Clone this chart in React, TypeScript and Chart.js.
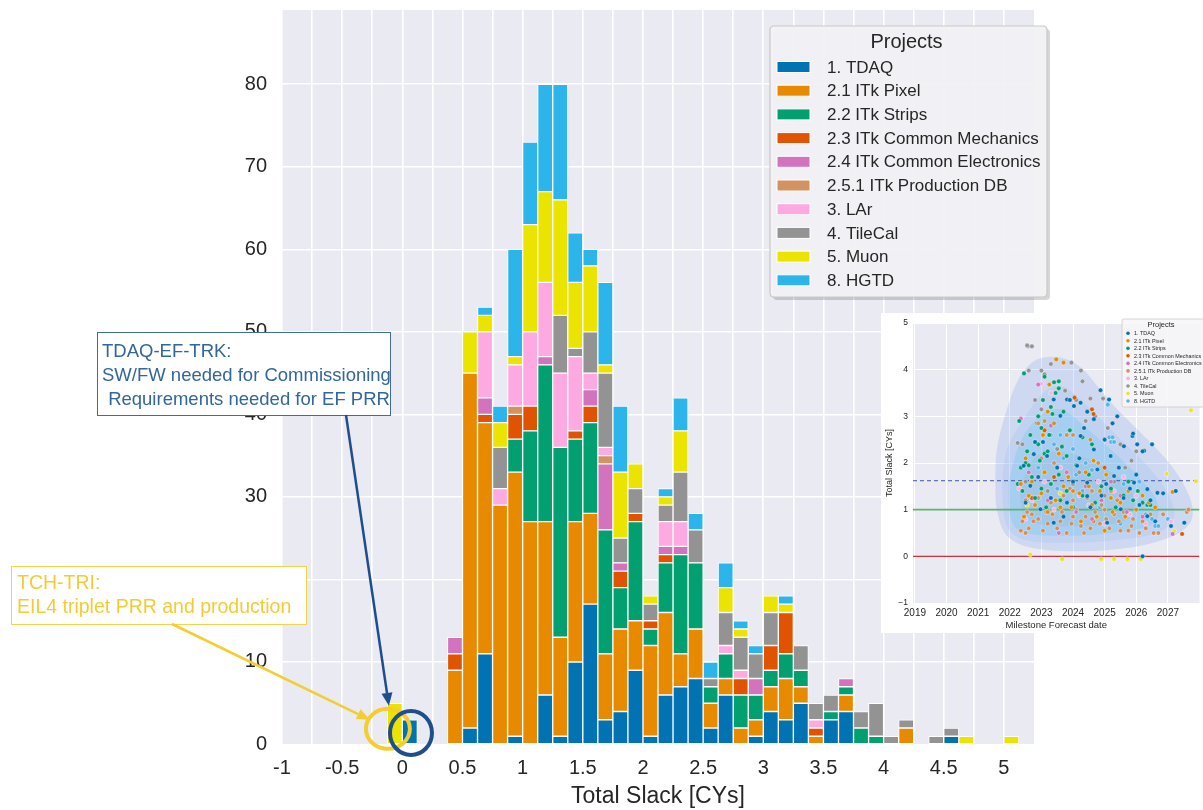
import React, { useEffect, useRef } from 'react';
import { Chart, registerables } from 'chart.js';

Chart.register(...registerables);

const FONT = "'Liberation Sans', Arial, Helvetica, sans-serif";

// ---------------- main histogram data ----------------
const projects = [
  '1. TDAQ', '2.1 ITk Pixel', '2.2 ITk Strips', '2.3 ITk Common Mechanics',
  '2.4 ITk Common Electronics', '2.5.1 ITk Production DB', '3. LAr', '4. TileCal', '5. Muon', '8. HGTD',
];
const barColors = ['#0173b2', '#e88a00', '#02a070', '#e05300', '#d373be', '#d3925f', '#fdaae2', '#939393', '#ebe300', '#2cb5ea'];
const dotColors = ['#0173b2', '#de8f05', '#029e73', '#d55e00', '#cc78bc', '#ca9161', '#fbafe4', '#949494', '#ece133', '#56b4e9'];

// bin centres (bin width 0.125 CY)
const binCenters = [
  -0.0625, 0.0625, 0.1875, 0.3125, 0.4375, 0.5625, 0.6875, 0.8125, 0.9375, 1.0625,
  1.1875, 1.3125, 1.4375, 1.5625, 1.6875, 1.8125, 1.9375, 2.0625, 2.1875, 2.3125,
  2.4375, 2.5625, 2.6875, 2.8125, 2.9375, 3.0625, 3.1875, 3.3125, 3.4375, 3.5625,
  3.6875, 3.8125, 3.9375, 4.0625, 4.1875, 4.3125, 4.4375, 4.5625, 4.6875, 4.8125,
  4.9375, 5.0625,
];
const tdaq = [0,3,0,0,0,2,11,0,1,0,6,1,10,17,3,4,9,1,6,7,8,2,6,0,1,4,3,5,0,3,4,0,0,0,0,0,0,1,0,0,0,0];
const pixel = [0,0,0,0,9,43,28,29,32,27,21,12,17,11,8,10,6,11,10,4,6,3,2,2,2,3,5,2,1,0,2,0,0,0,2,0,0,0,0,0,0,0];
const strips = [0,0,0,0,0,0,0,0,4,11,19,23,10,11,15,5,12,2,6,12,8,2,3,4,3,2,3,2,0,1,1,2,1,0,0,0,0,0,0,0,0,0];
const mech = [0,0,0,0,2,0,1,0,3,3,0,0,1,2,0,2,1,1,1,0,0,0,0,2,0,3,5,0,1,0,0,0,0,0,0,0,0,0,0,0,0,0];
const elec = [0,0,0,0,2,0,2,0,0,0,1,0,0,2,8,1,0,0,1,1,0,0,0,0,2,0,0,0,0,0,1,0,0,0,0,0,0,0,0,0,0,0];
const prodDb = [0,0,0,0,0,0,0,0,1,0,0,0,0,0,1,0,0,0,0,0,0,0,0,0,0,0,0,0,0,0,0,0,0,0,0,0,0,0,0,0,0,0];
const lar = [0,0,0,0,0,0,8,2,5,9,9,9,9,2,1,0,0,0,3,3,0,0,1,1,0,0,0,0,1,0,0,0,0,0,0,0,0,0,0,0,0,0];
const tileCal = [0,0,0,0,0,0,0,5,0,0,0,7,1,5,9,3,3,2,2,6,4,1,4,4,3,4,0,3,2,2,0,2,4,1,1,0,1,1,0,0,0,0];
const muon = [5,0,0,0,0,5,2,3,1,13,11,14,8,8,1,8,3,1,1,5,0,0,3,1,0,2,1,0,0,0,0,0,0,0,0,0,0,0,1,0,0,1];
const hgtd = [0,0,0,0,0,0,1,2,13,10,13,14,6,2,10,8,0,0,1,4,2,2,3,1,1,0,1,0,0,0,0,0,0,0,0,0,0,0,0,0,0,0];
const seriesValues = [tdaq, pixel, strips, mech, elec, prodDb, lar, tileCal, muon, hgtd];

const xGridValues = [-1, -0.75, -0.5, -0.25, 0, 0.25, 0.5, 0.75, 1, 1.25, 1.5, 1.75, 2, 2.25, 2.5, 2.75, 3, 3.25, 3.5, 3.75, 4, 4.25, 4.5, 4.75, 5];
const xLabelValues = [-1, -0.5, 0, 0.5, 1, 1.5, 2, 2.5, 3, 3.5, 4, 4.5, 5];
const xTickLabels = ['-1', '-0.5', '0', '0.5', '1', '1.5', '2', '2.5', '3', '3.5', '4', '4.5', '5'];
const yTickValues = [0, 10, 20, 30, 40, 50, 60, 70, 80];

// ---------------- inset scatter data (forecast year, slack) ----------------
const scTDAQ = [[2024.87,3.56],[2025.14,3.36],[2025.4,3.0],[2025.88,2.58],[2025.61,2.36],[2026.03,2.4],[2025.9,2.63],[2026.25,2.26],[2026.67,1.36],[2027.25,1.4],[2027.1,0.65],[2027.52,0.72],[2024.24,3.29],[2023.81,3.36],[2024.03,3.22],[2023.39,3.36],[2024.66,2.94],[2024.24,2.58],[2023.6,3.01],[2023.18,2.15],[2022.76,2.19],[2022.44,1.94],[2024.77,1.86],[2025.3,1.72],[2025.93,1.58],[2026.35,1.44],[2024.45,1.29],[2023.81,1.15],[2022.97,1.01],[2025.51,1.01],[2025.08,0.72],[2026.35,0.86],[2022.65,1.51],[2023.39,0.72],[2024.13,1.94],[2024.66,2.29],[2025.19,2.15],[2024.45,1.58],[2026.2,0.0],[2023.9,3.35],[2024.45,3.1],[2025.0,2.5],[2026.2,2.25],[2026.5,2.4],[2022.8,2.45],[2023.5,1.9],[2024.0,1.6],[2024.9,1.3],[2025.6,1.25],[2026.1,1.1],[2026.85,1.35],[2022.5,1.15],[2022.9,1.7],[2023.3,1.25],[2023.7,0.85],[2024.2,2.1],[2024.55,1.05],[2025.05,1.55],[2025.45,1.9],[2025.8,1.45],[2026.0,1.75],[2026.45,1.2],[2026.6,0.75],[2023.05,2.45],[2024.35,2.75],[2025.25,2.85]];
const scPixel = [[2023.47,4.22],[2023.7,4.15],[2023.25,3.68],[2023.2,3.1],[2023.4,2.85],[2023.05,2.6],[2022.35,1.55],[2022.6,1.3],[2022.8,1.1],[2023.0,1.35],[2023.2,0.95],[2023.45,1.2],[2023.7,1.5],[2023.95,1.05],[2024.2,1.35],[2024.4,1.8],[2024.6,1.1],[2024.85,1.4],[2025.05,1.75],[2025.25,0.95],[2025.5,1.15],[2025.75,1.4],[2026.0,1.0],[2026.4,1.15],[2027.15,1.38],[2022.5,2.1],[2023.55,2.2],[2024.65,2.05],[2024.25,0.75],[2025.0,0.55],[2022.45,0.85],[2022.7,1.6],[2023.1,1.8],[2023.6,1.05],[2024.0,1.4],[2024.5,1.5],[2025.2,1.25],[2025.65,0.85],[2026.2,1.3],[2026.6,1.05],[2023.85,1.7],[2024.75,0.85]];
const scStrips = [[2022.45,3.92],[2023.1,3.85],[2023.4,3.73],[2023.55,3.75],[2023.55,3.6],[2023.3,3.2],[2023.45,3.5],[2022.9,3.0],[2023.0,2.75],[2022.8,2.45],[2022.9,2.4],[2023.1,2.2],[2023.2,2.25],[2023.65,2.35],[2023.8,2.15],[2022.5,2.0],[2022.35,1.9],[2022.6,1.95],[2022.7,1.7],[2023.3,1.55],[2023.55,1.75],[2024.1,1.95],[2024.5,1.75],[2024.9,1.5],[2025.2,1.45],[2025.6,1.3],[2025.9,1.2],[2026.2,1.15],[2026.35,1.1],[2026.45,1.1],[2022.25,1.55],[2022.4,1.4],[2023.0,1.45],[2023.8,1.4],[2024.3,1.3],[2022.55,2.25],[2023.35,3.05],[2023.9,2.7],[2024.3,2.55],[2024.6,2.4],[2022.3,2.9],[2022.95,2.05],[2023.25,2.6],[2023.7,3.1],[2022.8,1.25],[2023.15,1.05],[2023.6,1.2],[2024.0,1.05],[2024.7,1.15],[2025.35,1.05],[2025.75,1.6],[2026.05,1.4],[2022.65,2.6],[2023.05,3.35]];
const scMech = [[2023.1,2.7],[2024.05,3.4],[2024.6,3.15],[2024.65,3.05],[2027.45,0.48],[2023.4,1.7],[2025.0,1.9],[2022.7,1.25]];
const scElec = [[2022.35,2.95],[2022.9,3.68],[2023.3,2.8],[2023.8,1.8],[2024.4,1.5],[2024.9,1.2],[2025.2,1.6],[2025.7,0.95],[2026.2,0.85],[2027.15,0.48],[2023.55,0.5],[2024.1,0.95],[2022.6,1.8],[2023.2,1.2],[2024.6,0.8],[2025.5,1.3]];
const scProdDb = [[2022.35,0.55],[2022.5,0.5],[2022.6,0.6],[2022.75,0.75],[2022.9,0.8],[2023.05,0.55],[2023.2,0.7],[2023.35,0.9],[2023.5,0.6],[2023.65,0.95],[2023.8,0.5],[2023.95,0.7],[2024.1,1.0],[2024.25,0.65],[2024.4,0.85],[2024.55,0.6],[2024.7,0.95],[2024.85,0.7],[2025.0,1.0],[2025.15,0.6],[2025.3,0.9],[2025.45,0.75],[2025.6,0.95],[2025.75,0.55],[2025.9,0.8],[2026.1,0.5],[2026.3,0.6],[2026.55,0.5],[2026.7,0.5],[2026.85,0.9],[2022.5,1.2],[2022.9,1.25],[2023.3,1.15],[2023.7,1.3],[2024.0,1.2],[2024.45,1.25],[2024.9,1.1],[2025.4,1.2],[2023.0,2.1],[2023.4,2.0],[2023.8,2.6],[2024.0,2.6],[2022.9,2.85],[2023.1,2.9],[2024.55,2.5],[2024.8,2.0],[2022.55,0.95],[2027.6,0.95],[2027.65,1.0],[2022.4,0.75],[2022.7,0.9],[2023.15,0.95],[2023.6,0.75],[2024.0,0.85],[2024.35,0.5],[2024.65,0.75],[2025.05,0.8],[2025.5,0.55],[2025.85,0.65],[2026.2,0.75],[2026.45,0.9],[2023.9,1.45],[2024.6,1.4],[2025.2,1.4]];
const scLAr = [[2022.3,1.45],[2022.7,1.2],[2023.1,1.6],[2023.6,1.9],[2024.2,1.3],[2024.8,1.6],[2025.3,1.4],[2025.8,0.9],[2026.3,0.7],[2027.1,0.75],[2023.3,3.5],[2023.0,3.7],[2022.5,0.8],[2023.4,1.0],[2024.5,1.1],[2025.0,0.7],[2025.6,1.7],[2026.0,1.3]];
const scTileCal = [[2022.55,4.52],[2022.7,4.5],[2022.6,3.98],[2023.0,3.98],[2023.1,3.9],[2023.3,4.12],[2023.95,4.15],[2024.25,3.98],[2024.3,3.75],[2023.75,3.55],[2024.1,3.35],[2024.55,3.38],[2024.95,3.38],[2022.25,2.43],[2022.4,2.4],[2022.85,2.85],[2023.0,3.15],[2024.7,3.0],[2025.1,2.75],[2025.5,2.4],[2025.65,1.9],[2025.85,2.05],[2026.0,2.25],[2024.4,2.9],[2022.5,1.6],[2023.2,1.4],[2024.0,1.55],[2025.0,1.3],[2023.5,2.3],[2024.2,1.8],[2025.3,1.6],[2022.8,3.35]];
const scMuon = [[2022.65,0.04],[2023.66,-0.06],[2024.89,-0.06],[2025.3,-0.06],[2025.72,-0.06],[2026.14,-0.06],[2026.96,1.77],[2027.89,1.61],[2027.73,3.13],[2027.2,0.54],[2022.55,1.1],[2023.6,1.35]];
const scHGTD = [[2022.58,4.5],[2023.3,2.6],[2023.4,2.4],[2023.6,2.6],[2023.7,2.1],[2024.1,1.75],[2024.3,1.4],[2024.6,1.85],[2025.1,3.25],[2025.15,2.55],[2025.2,2.45],[2025.25,2.55],[2025.3,2.45],[2025.6,1.55],[2025.9,1.2],[2026.3,0.9],[2026.5,0.8],[2026.6,0.65],[2026.7,0.65],[2027.0,0.8],[2027.5,0.72],[2024.85,1.05],[2023.2,1.0],[2022.9,1.9],[2023.5,1.45],[2024.0,2.3],[2024.4,2.0],[2025.5,0.7],[2026.1,1.6]];
const scatterSeries = [scTDAQ, scPixel, scStrips, scMech, scElec, scProdDb, scLAr, scTileCal, scMuon, scHGTD];

// density contour outlines (KDE levels), outer to inner
const kdeLevel1 = [[2021.54,1.58],[2021.59,2.29],[2021.91,3.15],[2022.33,3.86],[2022.86,4.22],[2023.6,4.26],[2024.24,4.05],[2024.77,3.65],[2025.3,3.22],[2025.93,2.79],[2026.57,2.36],[2027.2,1.86],[2027.68,1.29],[2027.78,0.86],[2027.52,0.58],[2026.88,0.36],[2025.83,0.19],[2024.24,0.11],[2022.65,0.19],[2021.91,0.44],[2021.59,1.01],[2021.54,1.58]];
const kdeLevel2 = [[2021.75,1.51],[2021.91,2.29],[2022.44,2.94],[2023.07,3.51],[2023.6,3.65],[2024.24,3.36],[2024.87,2.94],[2025.61,2.44],[2026.36,1.93],[2026.99,1.36],[2027.2,0.86],[2026.78,0.54],[2025.51,0.36],[2023.82,0.29],[2022.44,0.36],[2021.91,0.65],[2021.75,1.51]];
const kdeLevel3 = [[2021.96,1.58],[2022.33,2.44],[2022.97,3.01],[2023.6,3.15],[2024.34,2.79],[2025.3,2.22],[2026.14,1.65],[2026.67,1.15],[2026.57,0.72],[2025.3,0.51],[2023.71,0.44],[2022.33,0.54],[2022.02,0.86],[2021.96,1.58]];
const kdeLevel4 = [[2022.33,1.51],[2022.86,2.15],[2023.82,2.22],[2025.09,1.86],[2025.93,1.29],[2025.72,0.79],[2024.24,0.65],[2022.76,0.72],[2022.39,1.01],[2022.33,1.51]];
const kdeLevels = [kdeLevel1, kdeLevel2, kdeLevel3, kdeLevel4];
const kdeColors = ['rgba(110,155,238,0.22)', 'rgba(110,165,242,0.13)', 'rgba(70,195,240,0.22)', 'rgba(140,170,200,0.18)'];

const refLines = [
  { y: 1.62, color: '#3b55a8', width: 1, dash: [4, 3] },
  { y: 1.0, color: '#55b86a', width: 1.6, dash: [] as number[] },
  { y: 0.0, color: '#c8323f', width: 1.2, dash: [] as number[] },
];
const insetYears = [2019, 2020, 2021, 2022, 2023, 2024, 2025, 2026, 2027];
const insetYTicks = [-1, 0, 1, 2, 3, 4, 5];

// ---------------- helpers ----------------
function roundRect(ctx: CanvasRenderingContext2D, x: number, y: number, w: number, h: number, r: number) {
  ctx.beginPath();
  ctx.moveTo(x + r, y);
  ctx.lineTo(x + w - r, y);
  ctx.quadraticCurveTo(x + w, y, x + w, y + r);
  ctx.lineTo(x + w, y + h - r);
  ctx.quadraticCurveTo(x + w, y + h, x + w - r, y + h);
  ctx.lineTo(x + r, y + h);
  ctx.quadraticCurveTo(x, y + h, x, y + h - r);
  ctx.lineTo(x, y + r);
  ctx.quadraticCurveTo(x, y, x + r, y);
  ctx.closePath();
}

function arrow(ctx: CanvasRenderingContext2D, x1: number, y1: number, x2: number, y2: number, color: string, width: number, headLen: number, headW: number) {
  const a = Math.atan2(y2 - y1, x2 - x1);
  const bx = x2 - headLen * Math.cos(a);
  const by = y2 - headLen * Math.sin(a);
  ctx.strokeStyle = color;
  ctx.lineWidth = width;
  ctx.beginPath();
  ctx.moveTo(x1, y1);
  ctx.lineTo(bx, by);
  ctx.stroke();
  ctx.fillStyle = color;
  ctx.beginPath();
  ctx.moveTo(x2, y2);
  ctx.lineTo(bx + (headW / 2) * Math.sin(a), by - (headW / 2) * Math.cos(a));
  ctx.lineTo(bx - (headW / 2) * Math.sin(a), by + (headW / 2) * Math.cos(a));
  ctx.closePath();
  ctx.fill();
}

const plotBg = {
  id: 'plotBg',
  beforeDraw(chart: any) {
    const { ctx, chartArea } = chart;
    ctx.save();
    ctx.fillStyle = '#eaeaf2';
    ctx.fillRect(chartArea.left, chartArea.top, chartArea.right - chartArea.left, chartArea.bottom - chartArea.top);
    ctx.restore();
  },
};

const mainOverlay = {
  id: 'mainOverlay',
  afterDraw(chart: any) {
    const ctx: CanvasRenderingContext2D = chart.ctx;
    const xs = chart.scales.x;
    const ys = chart.scales.y;
    ctx.save();

    // ---- legend box ----
    const lx = 770, ly = 26, lw = 277, lh = 271;
    ctx.fillStyle = 'rgba(0,0,0,0.16)';
    roundRect(ctx, lx + 3, ly + 3, lw, lh, 4);
    ctx.fill();
    ctx.fillStyle = 'rgba(243,243,246,0.97)';
    roundRect(ctx, lx, ly, lw, lh, 4);
    ctx.fill();
    ctx.strokeStyle = '#c9c9c9';
    ctx.lineWidth = 1.2;
    ctx.stroke();
    ctx.fillStyle = '#262626';
    ctx.font = `20px ${FONT}`;
    ctx.textAlign = 'center';
    ctx.textBaseline = 'middle';
    ctx.fillText('Projects', lx + lw / 2 - 2, ly + 16);
    ctx.font = `17px ${FONT}`;
    ctx.textAlign = 'left';
    projects.forEach((p, i) => {
      const cy = 67 + i * 23.7;
      ctx.fillStyle = barColors[i];
      ctx.fillRect(777, cy - 5.5, 33, 11);
      ctx.strokeStyle = '#ffffff';
      ctx.lineWidth = 1;
      ctx.strokeRect(777, cy - 5.5, 33, 11);
      ctx.fillStyle = '#262626';
      ctx.fillText(p, 827, cy + 1);
    });

    // ---- annotations anchored to the data ----
    const yRing = { x: xs.getPixelForValue(-0.12), y: ys.getPixelForValue(1.9) };
    const bRing = { x: xs.getPixelForValue(0.072), y: ys.getPixelForValue(1.4) };
    const navy = '#1e4f8c';
    const gold = '#f4cd2e';

    // blue annotation box
    ctx.fillStyle = '#ffffff';
    ctx.fillRect(97, 332, 293, 83);
    ctx.strokeStyle = '#3f6e9d';
    ctx.lineWidth = 1;
    ctx.strokeRect(97.5, 332.5, 293, 83);
    ctx.fillStyle = '#33669a';
    ctx.font = `18.5px ${FONT}`;
    ctx.textAlign = 'left';
    ctx.textBaseline = 'middle';
    ctx.fillText('TDAQ-EF-TRK:', 102, 352);
    ctx.fillText('SW/FW needed for Commissioning', 102, 376);
    ctx.fillText(' Requirements needed for EF PRR', 103, 400);

    // yellow annotation box
    ctx.fillStyle = '#ffffff';
    ctx.fillRect(11, 566, 295, 58);
    ctx.strokeStyle = '#f3d34a';
    ctx.strokeRect(11.5, 566.5, 295, 58);
    ctx.fillStyle = '#f3cc35';
    ctx.font = `19.5px ${FONT}`;
    ctx.fillText('TCH-TRI:', 17, 584);
    ctx.fillText('EIL4 triplet PRR and production', 17, 608);

    // arrows
    arrow(ctx, 172, 624, yRing.x - 18, yRing.y - 9, gold, 2.5, 13, 11);
    arrow(ctx, 346, 415, yRing.x + 1, yRing.y - 23, navy, 2.5, 13, 11);

    // rings
    ctx.lineWidth = 4;
    ctx.strokeStyle = gold;
    ctx.beginPath();
    ctx.ellipse(yRing.x, yRing.y, 22, 20, 0, 0, Math.PI * 2);
    ctx.stroke();
    ctx.strokeStyle = navy;
    ctx.beginPath();
    ctx.ellipse(bRing.x, bRing.y, 21, 22, 0, 0, Math.PI * 2);
    ctx.stroke();
    ctx.restore();
  },
};

const insetOverlay = {
  id: 'insetOverlay',
  afterDraw(chart: any) {
    const ctx: CanvasRenderingContext2D = chart.ctx;
    ctx.save();
    const bx = 241, by = 6, bw = 96, bh = 88;
    ctx.fillStyle = 'rgba(246,246,248,0.9)';
    roundRect(ctx, bx, by, bw, bh, 2);
    ctx.fill();
    ctx.strokeStyle = '#cccccc';
    ctx.lineWidth = 0.8;
    ctx.stroke();
    ctx.fillStyle = '#262626';
    ctx.font = `7.5px ${FONT}`;
    ctx.textAlign = 'center';
    ctx.textBaseline = 'middle';
    ctx.fillText('Projects', bx + 39, by + 6);
    ctx.font = `5.4px ${FONT}`;
    ctx.textAlign = 'left';
    projects.forEach((p, i) => {
      const cy = 20.3 + i * 7.52;
      ctx.fillStyle = dotColors[i];
      ctx.beginPath();
      ctx.arc(247, cy, 1.8, 0, Math.PI * 2);
      ctx.fill();
      ctx.fillStyle = '#262626';
      ctx.fillText(p, 253, cy + 0.3);
    });
    ctx.restore();
  },
};

export default function App() {
  const mainRef = useRef<HTMLCanvasElement>(null);
  const insetRef = useRef<HTMLCanvasElement>(null);

  useEffect(() => {
    document.body.style.margin = '0';
    Chart.defaults.font.family = FONT;

    const main = new Chart(mainRef.current as HTMLCanvasElement, {
      type: 'bar',
      data: {
        datasets: projects.map((p, j) => ({
          label: p,
          data: binCenters.map((x, i) => ({ x, y: seriesValues[j][i] ? seriesValues[j][i] : null })),
          backgroundColor: barColors[j],
          borderColor: '#ffffff',
          borderWidth: 1,
          borderSkipped: false,
          barPercentage: 1,
          categoryPercentage: 1,
        })),
      } as any,
      options: {
        responsive: false,
        animation: false,
        events: [],
        layout: { padding: { left: 0, right: 169, top: 10, bottom: 0 } },
        plugins: { legend: { display: false }, tooltip: { enabled: false } },
        scales: {
          x: {
            type: 'linear',
            stacked: true,
            min: -1,
            max: 5.25,
            offset: false,
            afterBuildTicks: (s: any) => { s.ticks = xGridValues.map((v) => ({ value: v })); },
            ticks: {
              autoSkip: false,
              maxRotation: 0,
              padding: 12,
              color: '#262626',
              font: { size: 20 },
              callback: (v: any) => {
                const k = xLabelValues.findIndex((t) => Math.abs(t - Number(v)) < 1e-6);
                return k >= 0 ? xTickLabels[k] : '';
              },
            },
            grid: { color: '#ffffff', lineWidth: 1.6, drawTicks: false, offset: false },
            border: { display: false },
            title: { display: true, text: 'Total Slack [CYs]', color: '#262626', font: { size: 23 }, padding: { top: 0, bottom: 0 } },
            afterFit: (s: any) => { s.height = 65.5; s.paddingLeft = 0; s.paddingRight = 0; },
          },
          y: {
            type: 'linear',
            stacked: true,
            min: 0,
            max: 89,
            afterBuildTicks: (s: any) => { s.ticks = yTickValues.map((v) => ({ value: v })); },
            ticks: { padding: 15, color: '#262626', font: { size: 20 } },
            grid: { color: '#ffffff', lineWidth: 1.6, drawTicks: false },
            border: { display: false },
            afterFit: (s: any) => { s.width = 282; s.paddingTop = 0; s.paddingBottom = 0; },
          },
        },
      } as any,
      plugins: [plotBg, mainOverlay],
    });

    const insetDatasets: any[] = [];
    scatterSeries.forEach((pts, j) => {
      insetDatasets.push({
        type: 'scatter',
        label: projects[j],
        data: pts.map(([x, y]) => ({ x, y })),
        backgroundColor: dotColors[j],
        borderColor: '#ffffff',
        borderWidth: 0.4,
        pointRadius: 2.3,
        order: 0,
      });
    });
    refLines.forEach((l) => {
      insetDatasets.push({
        type: 'line',
        data: [{ x: 2018.94, y: l.y }, { x: 2028.0, y: l.y }],
        borderColor: l.color,
        borderWidth: l.width,
        borderDash: l.dash,
        pointRadius: 0,
        fill: false,
        order: 1,
      });
    });
    kdeLevels.forEach((poly, j) => {
      insetDatasets.push({
        type: 'line',
        data: poly.map(([x, y]) => ({ x, y })),
        borderWidth: 0,
        borderColor: 'rgba(0,0,0,0)',
        backgroundColor: kdeColors[j],
        pointRadius: 0,
        tension: 0.35,
        fill: 'shape',
        order: 10 - j,
      });
    });

    const inset = new Chart(insetRef.current as HTMLCanvasElement, {
      type: 'scatter',
      data: { datasets: insetDatasets },
      options: {
        responsive: false,
        animation: false,
        events: [],
        layout: { padding: { left: 0, right: 21.5, top: 10, bottom: 0 } },
        plugins: { legend: { display: false }, tooltip: { enabled: false } },
        scales: {
          x: {
            type: 'linear',
            min: 2018.94,
            max: 2028.0,
            afterBuildTicks: (s: any) => { s.ticks = insetYears.map((v) => ({ value: v })); },
            ticks: { autoSkip: false, maxRotation: 0, padding: 4, color: '#262626', font: { size: 10 }, callback: (v: any) => String(v) },
            grid: { color: '#ffffff', lineWidth: 1, drawTicks: false },
            border: { display: false },
            title: { display: true, text: 'Milestone Forecast date', color: '#262626', font: { size: 9.5 }, padding: { top: 0, bottom: 2 } },
            afterFit: (s: any) => { s.height = 30; s.paddingLeft = 0; s.paddingRight = 0; },
          },
          y: {
            type: 'linear',
            min: -1,
            max: 5,
            afterBuildTicks: (s: any) => { s.ticks = insetYTicks.map((v) => ({ value: v })); },
            ticks: {
              padding: 5,
              color: '#262626',
              font: { size: 8.5 },
              callback: (v: any) => (Number(v) < 0 ? '\u2212' + Math.abs(Number(v)) : String(v)),
            },
            grid: { color: '#ffffff', lineWidth: 1, drawTicks: false },
            border: { display: false },
            title: { display: true, text: 'Total Slack [CYs]', color: '#262626', font: { size: 9 }, padding: { top: 3, bottom: 0 } },
            afterFit: (s: any) => { s.width = 32; s.paddingTop = 0; s.paddingBottom = 0; },
          },
        },
      } as any,
      plugins: [plotBg, insetOverlay],
    });

    return () => {
      main.destroy();
      inset.destroy();
    };
  }, []);

  return (
    <div style={{ position: 'relative', width: 1203, height: 810, overflow: 'hidden', background: '#ffffff' }}>
      <canvas ref={mainRef} width={1203} height={810} style={{ position: 'absolute', left: 0, top: 0, width: 1203, height: 810 }} />
      <canvas ref={insetRef} width={340} height={320} style={{ position: 'absolute', left: 881, top: 313, width: 340, height: 320, background: '#ffffff' }} />
    </div>
  );
}
